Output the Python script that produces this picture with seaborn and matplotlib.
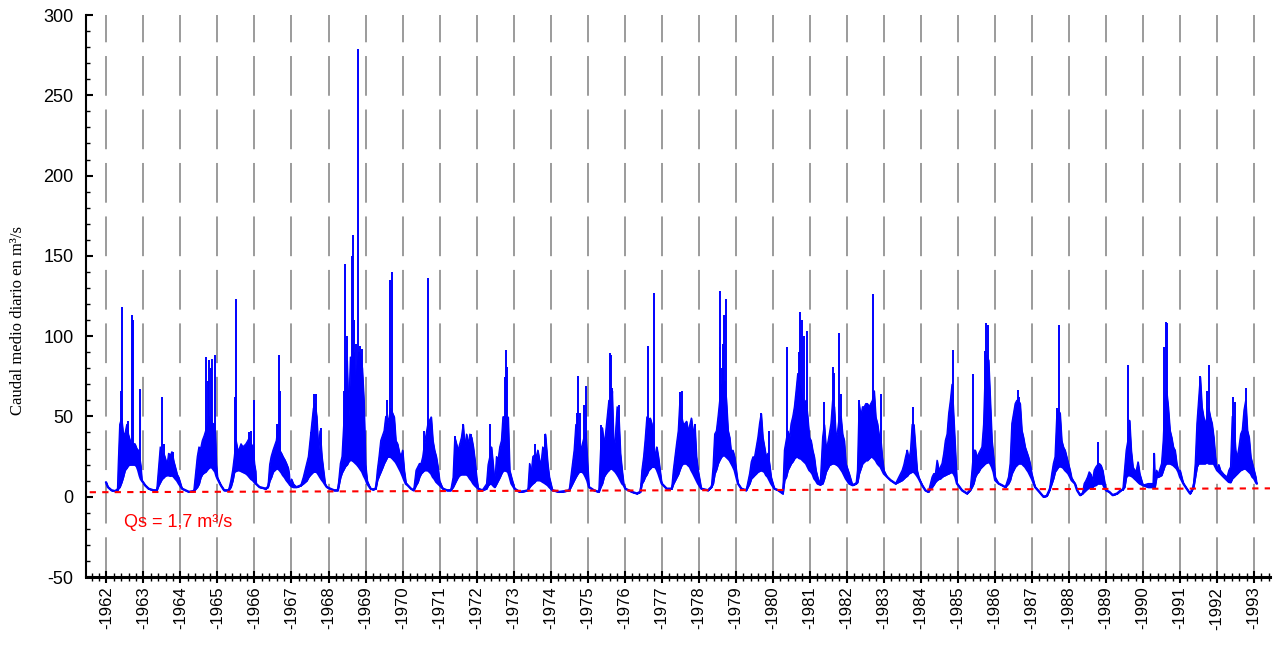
import numpy as np
import pandas as pd
import matplotlib
matplotlib.use("Agg")
import matplotlib.pyplot as plt
from matplotlib.ticker import MultipleLocator
import seaborn as sns

# ---------------- data ----------------
# knots of the daily-flow band: time (decimal years), lower envelope, upper envelope (m3/s)
knot_year = [
    1961.99, 1962.04, 1962.14, 1962.23, 1962.30, 1962.32, 1962.36, 1962.41, 1962.45, 1962.50, 1962.55, 1962.59, 1962.64, 1962.68, 1962.73, 1962.77, 1962.82, 1962.86, 1962.90, 1962.93, 1962.96, 1963.05, 1963.14, 1963.27,
    1963.36, 1963.41, 1963.455, 1963.50, 1963.55, 1963.59, 1963.64, 1963.68, 1963.73, 1963.77, 1963.82, 1963.86, 1963.91, 1963.955, 1964.045, 1964.14, 1964.23,
    1964.36, 1964.455, 1964.50, 1964.545, 1964.59, 1964.64, 1964.68, 1964.73, 1964.77, 1964.82, 1964.86, 1964.91, 1964.94, 1964.97, 1965.00, 1965.09, 1965.18, 1965.30,
    1965.36, 1965.41, 1965.455, 1965.50, 1965.545, 1965.59, 1965.636, 1965.68, 1965.73, 1965.77, 1965.82, 1965.864, 1965.91, 1965.955, 1966.00, 1966.03, 1966.045, 1966.136, 1966.30,
    1966.364, 1966.41, 1966.45, 1966.50, 1966.545, 1966.59, 1966.636, 1966.68, 1966.73, 1966.77, 1966.82, 1966.864, 1966.91, 1966.936, 1966.955, 1967.00, 1967.05, 1967.14, 1967.25,
    1967.32, 1967.41, 1967.455, 1967.50, 1967.545, 1967.59, 1967.636, 1967.68, 1967.727, 1967.77, 1967.82, 1967.864, 1967.91, 1967.955, 1968.045, 1968.15, 1968.25,
    1968.32, 1968.364, 1968.41, 1968.455, 1968.50, 1968.545, 1968.59, 1968.636, 1968.68, 1968.727, 1968.77, 1968.818, 1968.864, 1968.91, 1968.955, 1969.00, 1969.045, 1969.136, 1969.20,
    1969.273, 1969.318, 1969.364, 1969.41, 1969.455, 1969.50, 1969.545, 1969.59, 1969.636, 1969.68, 1969.73, 1969.773, 1969.818, 1969.864, 1969.91, 1969.955, 1970.00, 1970.045, 1970.09, 1970.136, 1970.227, 1970.30,
    1970.364, 1970.41, 1970.455, 1970.50, 1970.545, 1970.59, 1970.636, 1970.68, 1970.727, 1970.773, 1970.818, 1970.864, 1970.91, 1970.955, 1971.00, 1971.09, 1971.20, 1971.30,
    1971.364, 1971.41, 1971.455, 1971.50, 1971.545, 1971.59, 1971.636, 1971.68, 1971.727, 1971.773, 1971.818, 1971.864, 1971.91, 1971.955, 1972.00, 1972.045, 1972.15,
    1972.268, 1972.31, 1972.357, 1972.40, 1972.446, 1972.49, 1972.536, 1972.58, 1972.625, 1972.67, 1972.71, 1972.76, 1972.804, 1972.85, 1972.893, 1972.94, 1973.027, 1973.16, 1973.30,
    1973.384, 1973.43, 1973.473, 1973.518, 1973.563, 1973.607, 1973.652, 1973.70, 1973.74, 1973.786, 1973.83, 1973.857, 1973.92, 1973.964, 1974.05, 1974.23, 1974.40,
    1974.50, 1974.59, 1974.634, 1974.68, 1974.723, 1974.768, 1974.813, 1974.857, 1974.90, 1974.946, 1974.99, 1975.036, 1975.17, 1975.30,
    1975.348, 1975.393, 1975.438, 1975.48, 1975.527, 1975.571, 1975.607, 1975.643, 1975.66, 1975.705, 1975.75, 1975.795, 1975.84, 1975.884, 1975.93, 1975.973, 1976.018, 1976.196, 1976.33,
    1976.42, 1976.464, 1976.51, 1976.55, 1976.598, 1976.643, 1976.688, 1976.73, 1976.777, 1976.82, 1976.866, 1976.91, 1976.955, 1977.00, 1977.134, 1977.268,
    1977.313, 1977.357, 1977.40, 1977.446, 1977.49, 1977.536, 1977.58, 1977.624, 1977.67, 1977.713, 1977.76, 1977.80, 1977.85, 1977.893, 1977.937, 1977.982, 1978.07, 1978.25,
    1978.34, 1978.386, 1978.43, 1978.476, 1978.52, 1978.566, 1978.61, 1978.655, 1978.70, 1978.745, 1978.79, 1978.834, 1978.879, 1978.92, 1978.969, 1979.014, 1979.06, 1979.15, 1979.28,
    1979.373, 1979.418, 1979.463, 1979.507, 1979.552, 1979.597, 1979.642, 1979.686, 1979.73, 1979.776, 1979.82, 1979.866, 1979.91, 1979.955, 1980.045, 1980.15, 1980.27,
    1980.314, 1980.36, 1980.404, 1980.45, 1980.494, 1980.54, 1980.583, 1980.628, 1980.673, 1980.718, 1980.763, 1980.807, 1980.852, 1980.897, 1980.942, 1980.987, 1981.032, 1981.076, 1981.12, 1981.165, 1981.21, 1981.28,
    1981.346, 1981.39, 1981.435, 1981.48, 1981.525, 1981.57, 1981.615, 1981.66, 1981.705, 1981.75, 1981.794, 1981.84, 1981.884, 1981.93, 1981.973, 1982.063, 1982.153, 1982.25,
    1982.287, 1982.33, 1982.376, 1982.422, 1982.47, 1982.51, 1982.556, 1982.60, 1982.645, 1982.69, 1982.736, 1982.78, 1982.826, 1982.866, 1982.91, 1982.955, 1983.00, 1983.09, 1983.18, 1983.315,
    1983.404, 1983.494, 1983.54, 1983.584, 1983.63, 1983.674, 1983.72, 1983.763, 1983.808, 1983.853, 1983.898, 1983.943, 1984.033, 1984.12, 1984.20,
    1984.302, 1984.347, 1984.392, 1984.437, 1984.482, 1984.526, 1984.57, 1984.616, 1984.66, 1984.706, 1984.75, 1984.796, 1984.84, 1984.885, 1984.93, 1984.975, 1985.11, 1985.245, 1985.33,
    1985.38, 1985.424, 1985.468, 1985.513, 1985.558, 1985.603, 1985.648, 1985.693, 1985.738, 1985.783, 1985.828, 1985.873, 1985.918, 1985.963, 1986.007, 1986.10, 1986.187, 1986.28,
    1986.366, 1986.41, 1986.456, 1986.50, 1986.546, 1986.59, 1986.636, 1986.68, 1986.726, 1986.77, 1986.816, 1986.86, 1986.905, 1986.95, 1986.995, 1987.085, 1987.20, 1987.31, 1987.40, 1987.47,
    1987.534, 1987.578, 1987.623, 1987.668, 1987.713, 1987.758, 1987.803, 1987.848, 1987.893, 1987.938, 1987.982, 1988.03, 1988.07, 1988.16, 1988.22, 1988.30,
    1988.364, 1988.41, 1988.455, 1988.50, 1988.545, 1988.59, 1988.636, 1988.68, 1988.727, 1988.773, 1988.818, 1988.864, 1988.91, 1988.955, 1989.00, 1989.09, 1989.18, 1989.30, 1989.40,
    1989.455, 1989.50, 1989.545, 1989.59, 1989.636, 1989.68, 1989.727, 1989.77, 1989.818, 1989.864, 1989.91, 1990.00, 1990.14, 1990.27, 1990.30, 1990.318, 1990.364,
    1990.41, 1990.50, 1990.545, 1990.59, 1990.636, 1990.68, 1990.727, 1990.773, 1990.818, 1990.864, 1990.91, 1990.955, 1991.00, 1991.09, 1991.18, 1991.27, 1991.32,
    1991.364, 1991.41, 1991.455, 1991.50, 1991.545, 1991.59, 1991.636, 1991.68, 1991.727, 1991.773, 1991.818, 1991.864, 1991.91, 1991.955, 1992.00, 1992.045, 1992.09, 1992.18, 1992.27,
    1992.318, 1992.364, 1992.41, 1992.455, 1992.50, 1992.545, 1992.59, 1992.636, 1992.68, 1992.727, 1992.773, 1992.818, 1992.864, 1992.91, 1992.955, 1993.00, 1993.045, 1993.07,
]
flow_low = [
    9, 6, 4, 3.5, 4, 5, 6, 9, 12, 16.5, 18, 19.5, 20, 20, 20, 20, 19, 16.5, 13, 11, 10, 7, 5, 4,
    4, 7, 9, 11, 12, 13, 13.4, 13.4, 13, 13.4, 12.5, 11.3, 10, 8.2, 5, 4, 3,
    3.5, 6, 8, 12, 14, 15, 15.5, 17, 18, 18.6, 18, 16.5, 15.5, 13, 11.3, 7.2, 4, 4,
    6, 10, 15.5, 16, 16.5, 16.5, 16, 15.5, 15, 14.5, 13.5, 12.3, 11, 10.3, 9, 8.2, 8, 6, 5,
    6, 10, 12, 15.5, 16.5, 17.5, 17.5, 16.5, 15, 13.4, 12, 10.3, 9, 8.2, 7.5, 6.5, 6, 6, 7,
    8.2, 10, 12, 13.4, 14.5, 15.5, 15.5, 15.5, 14, 12.3, 10.5, 9.2, 7.5, 6, 5, 4, 4,
    12, 15, 17, 19, 20, 22, 23, 22.7, 22, 21, 20, 18.6, 17, 15.5, 13, 11, 8.2, 5, 4.5,
    5, 10.3, 13, 15.5, 18, 20.7, 22.7, 24.8, 25, 24.8, 23.8, 22.7, 21.5, 19.6, 17.5, 15.5, 13, 10.3, 8, 7.2, 5, 4,
    7.2, 9, 12.3, 14.4, 15.5, 16.5, 16.5, 16.5, 15.5, 14.4, 12.3, 11, 9.2, 8.2, 7.2, 5, 4, 4,
    6, 8.2, 10.3, 12.3, 13.4, 13.9, 13.9, 13.9, 13.9, 13, 11.3, 10, 8.2, 7, 6, 5, 4,
    5, 7, 8, 8.2, 7, 6, 8, 10, 12, 14.4, 16, 16.5, 16, 15.5, 12.3, 8.2, 5, 3, 3.5,
    4, 6, 7.2, 8.2, 9, 10.3, 10.3, 10.3, 10, 9.2, 8.7, 8.2, 7.2, 6, 4, 3, 3.5,
    4, 8.2, 10.3, 12.3, 14, 15.5, 15.5, 15.5, 14.4, 12.3, 10, 6, 4, 3,
    6, 8.2, 12.3, 14, 15.5, 16.5, 17.5, 17.5, 17.5, 16.5, 15.5, 14, 12.3, 10.3, 8.2, 7.2, 5, 3, 2,
    3, 8.2, 10, 12.3, 14, 16.5, 17.5, 18.6, 18.6, 18.6, 17, 14.4, 11.3, 8.2, 5, 5,
    8, 10, 12, 14, 17, 19.6, 20.7, 20.7, 20.7, 19.6, 18.6, 16.5, 14.4, 12.3, 10.3, 8.2, 5, 4,
    6, 8.2, 14.4, 17, 20.7, 23, 24.8, 25.8, 25.8, 24.8, 23.8, 22.7, 20.7, 19, 16.5, 12.3, 8.2, 5, 4,
    8.2, 11.3, 12.3, 13.4, 14.4, 15.5, 16, 16.5, 16, 15.5, 13.4, 12.3, 10.3, 8.2, 5, 4, 2,
    10.3, 12.3, 16.5, 18.6, 20.7, 22, 23.8, 24.8, 24.8, 24, 23.8, 22.7, 21.7, 20.7, 18.6, 16.5, 15.5, 14, 11.3, 10, 8.2, 7.5,
    8.2, 11.3, 15.5, 17.5, 19.6, 20.2, 20.7, 20.7, 20.2, 19.6, 18.6, 17, 15.5, 13.4, 11.3, 8.2, 7.2, 8.2,
    9, 14.4, 17.5, 20.7, 21.7, 22.7, 22.7, 23.8, 24.8, 24.8, 23.8, 22.7, 20.7, 19.6, 18.6, 16.5, 14.4, 12.3, 10.3, 8.2,
    9.2, 10.3, 11.3, 12.3, 13, 14.4, 15, 15.5, 15.5, 14.4, 13, 11.3, 7.2, 4, 3,
    6, 7.5, 9.2, 10.3, 11, 11.3, 12.3, 13, 13.4, 14, 14.4, 15, 15.5, 14.4, 12.3, 8.2, 4, 2, 4,
    6, 8.2, 12.3, 14.4, 15.5, 17.5, 18.6, 19.6, 20.7, 21.2, 21.7, 20.7, 18.6, 15.5, 10.3, 8.2, 7.2, 6,
    8.2, 10.3, 14.4, 16.5, 18.6, 19.6, 20.7, 20.7, 20.7, 19.6, 18.6, 17, 15.5, 13.4, 11.3, 6, 3, 0, 0.5, 4,
    8.2, 11.3, 15.5, 17, 18.6, 19, 18.6, 18, 16.5, 15.5, 14.4, 12.3, 10.3, 8.2, 4, 1,
    2, 3, 4, 5, 5.5, 6, 6, 7, 7.2, 8.2, 8.2, 8.2, 8.2, 6, 4, 3, 1, 2, 4,
    4.5, 6, 12.3, 13.4, 13.4, 13, 12.3, 11.3, 10.3, 9.2, 8.2, 7.2, 6, 6, 6, 6, 12.3,
    12.3, 13.4, 16.5, 19.6, 20.7, 20.7, 20.7, 20.2, 19.6, 18.6, 17.5, 15.5, 12.3, 8.2, 5, 2, 4,
    6, 12.3, 18.6, 20.7, 20.7, 20.7, 20.7, 20.7, 21.7, 20.7, 20.7, 20.7, 20.7, 18.6, 16.5, 15.5, 14.4, 12.3, 10.3,
    9.2, 9, 11.3, 12.3, 13.4, 14.4, 15.5, 16.5, 17, 17.5, 17.5, 16.5, 15.5, 14.4, 12.3, 11.3, 9.2, 8.2,
]
flow_high = [
    9, 6, 4, 3.5, 5, 20, 45, 49, 40, 39, 45, 39, 35, 31, 33, 33, 30, 29, 24, 19, 10, 7, 5, 4,
    4, 18, 31, 25, 27, 24, 20, 27, 26, 28, 22, 18.6, 14, 12, 5, 4, 3,
    3.5, 25, 31, 30, 35, 38, 41, 45, 50, 45, 46, 45, 40, 20, 12, 7.2, 4, 4,
    10, 16.5, 25, 35, 29, 30, 33, 31, 32, 33, 35, 37, 33, 31, 20, 16, 8, 6, 5,
    6, 20, 25, 29, 32, 35, 45, 29, 27, 25, 23, 20.7, 18, 14.4, 7.5, 11, 8, 6, 7,
    12.3, 20.7, 25, 35, 45, 55, 58, 50, 29, 41, 25, 16.5, 8, 6, 5, 4, 4,
    20.7, 25, 45, 70, 85, 50, 87, 75, 90, 66, 80, 90, 88, 80, 60, 20, 10, 5, 4.5,
    5, 16.5, 25, 35, 38, 41, 50, 45.6, 49.7, 55, 52, 49.7, 35, 33, 28, 24.8, 29, 16.5, 9, 7.2, 5, 4,
    16.5, 18.6, 20.7, 20.7, 25, 33, 39, 45, 47.6, 49.7, 35, 29, 25, 18.6, 10, 5, 4, 4,
    12, 37, 33, 29, 33, 37, 45, 31, 39, 33, 39, 37, 31, 22.7, 12, 5, 4,
    8, 20, 25, 31, 20, 8, 25, 23, 31, 35, 49.7, 50, 45, 49.7, 16.5, 12.3, 5, 3, 3.5,
    4, 20.7, 14.4, 25, 26, 24.8, 29, 22.7, 20.7, 31, 27, 39, 20.7, 12.3, 4, 3, 3.5,
    4, 20.7, 29, 45, 40, 35, 29, 33, 37, 40, 22.7, 6, 4, 3,
    29, 43, 33, 39, 49.7, 60, 60, 58, 66, 29, 39, 56, 50, 27, 16.5, 8, 5, 3, 2,
    3, 16.5, 24.8, 35, 49.7, 45, 49, 45.6, 35, 24.8, 31, 24.8, 16.5, 8.2, 5, 5,
    16.5, 25, 33, 41, 60, 50, 45, 45.6, 47, 41, 45, 49, 39, 45, 25, 16.5, 5, 4,
    6, 18.6, 39, 41, 49.7, 60, 70, 66, 72, 60, 41.4, 37, 27, 29, 24.8, 16.5, 8.2, 5, 4,
    14.4, 21.7, 24.8, 24.8, 31, 37, 45.6, 51.8, 37, 31, 24.8, 27, 20.7, 12.3, 5, 4, 2,
    29, 35, 41, 37, 45.6, 50, 56, 66, 76.7, 70, 66, 60, 58, 60, 49.7, 37, 35, 29, 24.8, 16.5, 12.3, 7.5,
    37, 45, 31, 33, 39, 45.6, 60, 56, 37, 41, 49.7, 50, 39, 35, 20.7, 14.4, 7.2, 8.2,
    16.5, 58, 50, 56, 56, 58, 58, 56, 58, 60, 66, 49.7, 45.6, 39, 37, 25, 16.5, 12.3, 10.3, 8.2,
    12.3, 16.5, 20, 24.8, 29, 22.7, 29, 45, 45, 31, 16.5, 12.3, 7.2, 4, 3,
    12.3, 14.4, 14.4, 22.7, 16.5, 18.6, 20.7, 26.9, 35, 39, 51.8, 60, 70, 50, 29, 8.2, 4, 2, 4,
    16.5, 29, 29, 24.8, 26.9, 29, 31, 45, 80, 88, 85, 60, 35, 24.8, 12.3, 8.2, 7.2, 6,
    12.3, 20.7, 45.6, 51.8, 58, 60, 60, 58, 41.4, 37, 31, 28, 24.8, 20.7, 14.4, 6, 3, 0, 0.5, 4,
    14.4, 20.7, 24.8, 49.7, 53.9, 52, 35, 31, 29, 24.8, 20.7, 16.5, 12, 8.2, 4, 1,
    2, 8.2, 10, 12.3, 15.5, 14, 10.3, 16.5, 18.6, 20, 20.7, 19.6, 16.5, 10.3, 4, 3, 1, 2, 4,
    4.5, 16.5, 29, 35, 47.6, 29, 18.6, 16.5, 16.5, 21.7, 14.4, 7.2, 8.2, 8.2, 27, 12, 16.5,
    14, 20.7, 35, 60, 66, 55.9, 41.4, 37, 31, 29, 20.7, 16.5, 16.5, 8.2, 5, 2, 4,
    8, 20.7, 45.6, 60, 74.6, 56, 49.7, 45.6, 49.7, 55, 49.7, 45.6, 37, 24.8, 16.5, 20, 16.5, 14, 12.3,
    16.5, 18.6, 50, 45, 29, 24.8, 31, 39, 41.4, 54, 60, 41.4, 37, 24.8, 20.7, 16.5, 12.3, 8.2,
]

# isolated flood peaks (decimal year, peak flow m3/s)
peak_year = [
    1962.39, 1962.41, 1962.59, 1962.70, 1962.73, 1962.91, 1963.50, 1963.545, 1963.79,
    1964.68, 1964.745, 1964.77, 1964.82, 1964.864, 1964.936, 1965.482, 1965.51, 1965.864, 1965.91, 1966.00,
    1966.60, 1966.655, 1966.70, 1967.52, 1967.61, 1967.66, 1967.79,
    1968.41, 1968.45, 1968.50, 1968.63, 1968.66, 1968.70, 1968.73, 1968.80, 1968.86, 1968.91,
    1969.59, 1969.66, 1969.71, 1969.80, 1970.59, 1970.68, 1971.41, 1971.64, 1971.86,
    1972.357, 1972.76, 1972.80, 1972.83, 1973.59, 1973.86,
    1974.70, 1974.74, 1974.786, 1974.90, 1974.946, 1975.37, 1975.607, 1975.643, 1975.67, 1975.84,
    1976.625, 1976.688, 1976.804, 1977.49, 1977.56, 1977.89,
    1978.566, 1978.583, 1978.62, 1978.655, 1978.69, 1978.727, 1979.64, 1979.69, 1979.91,
    1980.377, 1980.70, 1980.736, 1980.79, 1980.852, 1980.915, 1981.39, 1981.633, 1981.66, 1981.80, 1981.84,
    1982.34, 1982.71, 1982.91, 1983.63, 1983.78, 1984.733, 1984.86,
    1985.415, 1985.72, 1985.756, 1985.80, 1986.618, 1986.663, 1987.69, 1987.74, 1988.773, 1989.59,
    1990.30, 1990.58, 1990.627, 1990.655, 1991.527, 1991.73, 1991.78, 1992.418, 1992.48, 1992.78,
]
peak_flow = [
    66, 118, 47, 113, 110, 67, 62, 33, 28,
    87, 72, 85, 80, 86, 88, 62, 123, 40, 41, 60,
    45, 88, 66, 40, 64, 64, 43,
    66, 145, 100, 150, 163, 110, 95, 279, 94, 92,
    60, 135, 140, 37, 41, 136, 38, 45.5, 39,
    45.5, 74.6, 91.6, 81, 33, 39,
    52, 75, 52, 57, 69, 44.5, 89.6, 88, 68, 57,
    94, 49, 127, 65, 66, 45,
    93, 128, 80, 95, 113, 123, 40, 52, 41,
    93, 90, 115, 110, 100, 103, 59, 81, 77, 102, 64,
    60, 126.5, 64, 29, 56, 38, 91.6,
    76.7, 91, 108, 107, 66.7, 62, 55, 107, 34, 82,
    27, 93, 109, 108, 75, 66, 82, 62, 59, 68,
]

# red reference line (Qs) end points
qs_year = [1961.55, 1993.43]
qs_flow = [2.8, 5.2]
qs_text = "Qs = 1,7 m³/s"

year_ticks = list(range(1962, 1994))
tick_labels = [f"-{y}" for y in year_ticks]
y_label = "Caudal medio diario en m³/s"

# ---------------- drawing ----------------
sns.set_style("white")
plt.rcParams['font.family'] = ['Liberation Sans', 'DejaVu Sans']
plt.rcParams['axes.unicode_minus'] = False

W, H = 1277, 649
fig = plt.figure(figsize=(W / 100, H / 100), dpi=100)
ax = fig.add_axes([86 / W, 1 - 577 / H, (1270 - 86) / W, (577 - 15) / H])

BLUE = "#0000ff"
ax.fill_between(knot_year, flow_low, flow_high, color=BLUE, lw=0.8, zorder=3)
sns.lineplot(x=knot_year, y=flow_low, color=BLUE, lw=1.7, ax=ax, zorder=4,
             estimator=None, sort=False)
sns.lineplot(x=knot_year, y=flow_high, color=BLUE, lw=0.9, ax=ax, zorder=4,
             estimator=None, sort=False)
spike_base = np.interp(peak_year, knot_year, flow_low)
ax.vlines(peak_year, spike_base, peak_flow, color=BLUE, lw=1.4, zorder=4)

ax.plot(qs_year, qs_flow, color="red", lw=1.5, ls=(0, (3, 3)), zorder=6)
ax.text(1962.47, -15.9, qs_text, color="red", fontsize=13, ha="left", va="center", zorder=7)

ax.set_xlim(1961.45, 1993.43)
ax.set_ylim(-50, 300)
for s in ["top", "right"]:
    ax.spines[s].set_visible(False)
ax.spines["left"].set_color("black")
ax.spines["left"].set_linewidth(1.5)
ax.spines["bottom"].set_color("black")
ax.spines["bottom"].set_linewidth(2.2)

ax.yaxis.set_major_locator(MultipleLocator(50))
ax.yaxis.set_minor_locator(MultipleLocator(10))
ax.set_xticks(year_ticks)
ax.set_xticklabels(tick_labels, rotation=90)
ax.xaxis.set_minor_locator(MultipleLocator(0.2))

ax.tick_params(axis="y", which="major", direction="in", length=5, width=1.5,
               labelsize=13, pad=9, color="black", labelcolor="black", left=True)
ax.tick_params(axis="y", which="minor", direction="in", length=3, width=1, color="black", left=True)
ax.tick_params(axis="x", which="major", direction="inout", length=8, width=1.5,
               labelsize=12, pad=3, color="black", labelcolor="black", bottom=True)
ax.tick_params(axis="x", which="minor", direction="inout", length=6, width=1, color="black", bottom=True)

ax.grid(axis="x", which="major", color="#808080", lw=1.1, ls=(0, (26, 9)))
ax.grid(axis="y", visible=False)
ax.set_axisbelow(True)

ax.set_xlabel("")
ax.set_ylabel(y_label, fontfamily=["Liberation Serif", "DejaVu Serif"], fontsize=12, color="black")
ax.yaxis.set_label_coords(-0.051, 0.457)

fig.savefig("out.png", dpi=100)
